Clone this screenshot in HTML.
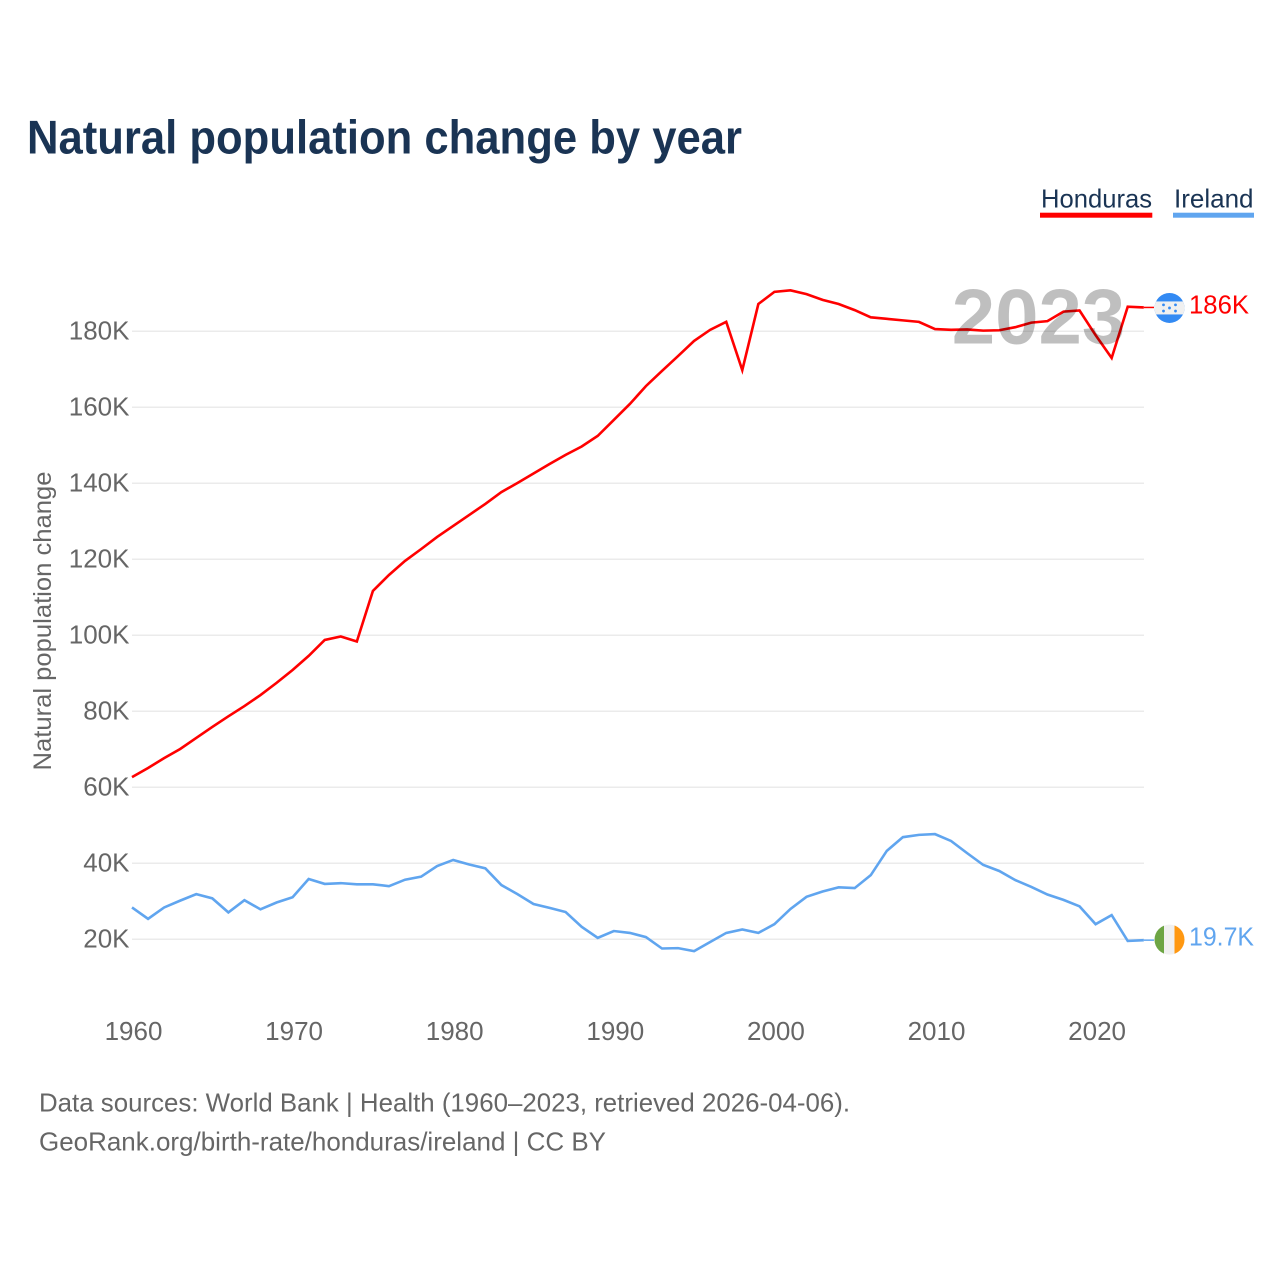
<!DOCTYPE html>
<html lang="en">
<head>
<meta charset="utf-8">
<title>Natural population change by year</title>
<style>
html,body{margin:0;padding:0;background:#fff;width:1280px;height:1280px;overflow:hidden}
svg{display:block;font-family:"Liberation Sans",sans-serif}
</style>
</head>
<body>
<svg id="chart" width="1280" height="1280" viewBox="0 0 1280 1280" xmlns="http://www.w3.org/2000/svg">
  <rect x="0" y="0" width="1280" height="1280" fill="#fff"/>
  <text x="27" y="153.5" font-size="47" font-weight="700" fill="#1a3454" textLength="715" lengthAdjust="spacingAndGlyphs">Natural population change by year</text>

  <g>
    <g>
      <text x="1041" y="207.5" font-size="26" fill="#1a3454" textLength="111" lengthAdjust="spacingAndGlyphs">Honduras</text>
      <rect x="1040" y="212.7" width="112.3" height="5" fill="#ff0000"/>
    </g>
    <g>
      <text x="1174" y="207.5" font-size="26" fill="#1a3454" textLength="79.5" lengthAdjust="spacingAndGlyphs">Ireland</text>
      <rect x="1173" y="212.7" width="81" height="5" fill="#60a5ef"/>
    </g>
  </g>

  <g id="grid"></g>
  <g id="yticks"></g>
  <g id="xticks"></g>
  <text transform="translate(51,621) rotate(-90)" text-anchor="middle" font-size="25" fill="#666" textLength="299" lengthAdjust="spacingAndGlyphs">Natural population change</text>
  <g id="series"></g>
  <text x="1038.5" y="343.5" text-anchor="middle" font-size="78" font-weight="700" fill="#000" fill-opacity="0.25">2023</text>

  <g id="flag-hn"></g>
  <g id="flag-ie"></g>

  <text x="39" y="1111.5" font-size="26" fill="#666" textLength="811" lengthAdjust="spacingAndGlyphs">Data sources: World Bank | Health (1960–2023, retrieved 2026-04-06).</text>
  <text x="39" y="1150.5" font-size="26" fill="#666" textLength="567" lengthAdjust="spacingAndGlyphs">GeoRank.org/birth-rate/honduras/ireland | CC BY</text>
</svg>
<script>
const startYear = 1960;
const xTickYears = [1960, 1970, 1980, 1990, 2000, 2010, 2020];
const yTickValues = [20, 40, 60, 80, 100, 120, 140, 160, 180];
const endLabels = ["186K", "19.7K"];
const hondurasValues = [62.6,65.0,67.6,70.0,72.9,75.8,78.6,81.3,84.2,87.4,90.8,94.5,98.7,99.6,98.3,111.6,115.8,119.5,122.6,125.8,128.7,131.6,134.5,137.6,140.0,142.5,145.0,147.4,149.6,152.4,156.6,160.8,165.5,169.5,173.4,177.4,180.3,182.4,169.7,187.1,190.3,190.7,189.7,188.2,187.1,185.5,183.6,183.2,182.8,182.4,180.5,180.3,180.4,180.1,180.2,181.0,182.2,182.6,185.1,185.4,178.9,172.9,186.4,186.2];
const irelandValues = [28.3,25.3,28.3,30.1,31.8,30.7,27.0,30.2,27.8,29.6,31.0,35.8,34.5,34.7,34.4,34.4,33.9,35.6,36.4,39.2,40.8,39.6,38.6,34.2,31.8,29.2,28.2,27.1,23.2,20.3,22.1,21.6,20.5,17.5,17.6,16.8,19.2,21.6,22.5,21.6,23.9,27.9,31.1,32.5,33.6,33.4,36.8,43.2,46.8,47.4,47.6,45.8,42.6,39.5,37.9,35.5,33.7,31.7,30.3,28.6,23.9,26.3,19.5,19.7];

const SVGNS = "http://www.w3.org/2000/svg";
function xScale(year) { return 132 + (year - 1960) * 16.06; }
function yScale(value) { return 1015 - value * 3.8; }
function make(tag, parent, attrs, text) {
  const el = document.createElementNS(SVGNS, tag);
  for (const k in attrs) el.setAttribute(k, attrs[k]);
  if (text !== undefined) el.textContent = text;
  parent.appendChild(el);
  return el;
}

const grid = document.getElementById("grid");
const yticks = document.getElementById("yticks");
yTickValues.forEach(function (v) {
  const line = make("line", grid, {x1: 132, x2: 1144, y1: yScale(v) + 0.3, y2: yScale(v) + 0.3, stroke: "#ebebeb", "stroke-width": 1.5});
  
  
  const label = make("text", yticks, {x: 129.5, y: yScale(v) + 8.5, "text-anchor": "end", "font-size": 26, fill: "#666"}, v + "K");
  
  
});

const xticks = document.getElementById("xticks");
xTickYears.forEach(function (y) {
  const label = make("text", xticks, {x: xScale(y) + 1.5, y: 1040, "text-anchor": "middle", "font-size": 26, fill: "#666"}, String(y));
  
  
});

function pathFor(values) {
  return values.map(function (v, i) {
    return (i ? "L" : "M") + xScale(startYear + i).toFixed(2) + " " + yScale(v).toFixed(2);
  }).join("");
}
const series = document.getElementById("series");

const hnLine = make("path", series, {d: pathFor(hondurasValues), fill: "none", stroke: "#ff0000", "stroke-width": 2.6, "stroke-linejoin": "miter"});



const ieLine = make("path", series, {d: pathFor(irelandValues), fill: "none", stroke: "#60a5ef", "stroke-width": 2.6, "stroke-linejoin": "miter"});



const lastYear = startYear + hondurasValues.length - 1;
const hnY = yScale(hondurasValues[hondurasValues.length - 1]);
const ieY = yScale(irelandValues[irelandValues.length - 1]);

const hnConn = make("line", series, {x1: xScale(lastYear), x2: 1154, y1: hnY, y2: hnY, stroke: "#ff0000", "stroke-width": 1.5});


const ieConn = make("line", series, {x1: xScale(lastYear), x2: 1154, y1: ieY, y2: ieY, stroke: "#60a5ef", "stroke-width": 1.5});



const hnEnd = make("text", series, {x: 1189, y: hnY + 6, "font-size": 26, fill: "#ff0000", textLength: 60, lengthAdjust: "spacingAndGlyphs"}, endLabels[0]);


const ieEnd = make("text", series, {x: 1189, y: ieY + 5.6, "font-size": 26, fill: "#60a5ef", textLength: 65, lengthAdjust: "spacingAndGlyphs"}, endLabels[1]);



/* flags */
const cx = 1169.5, r = 15;
const defs = make("defs", document.getElementById("chart"), {});
const clipHn = make("clipPath", defs, {id: "clip-hn"});
make("circle", clipHn, {cx: cx, cy: hnY + 0.5, r: r});
const clipIe = make("clipPath", defs, {id: "clip-ie"});
make("circle", clipIe, {cx: cx, cy: ieY - 0.5, r: r});

const hn = document.getElementById("flag-hn");
hn.setAttribute("clip-path", "url(#clip-hn)");
make("rect", hn, {x: cx - r, y: hnY - r, width: 2 * r, height: 2 * r + 1, fill: "#338af3"});
make("rect", hn, {x: cx - r, y: hnY - 6, width: 2 * r, height: 13, fill: "#f0f0f0"});
[[0, 0.5], [-6, -2.6], [6, -2.6], [-6, 3.6], [6, 3.6]].forEach(function (p) {
  make("circle", hn, {cx: cx + p[0], cy: hnY + p[1], r: 1.4, fill: "#338af3"});
});

const ie = document.getElementById("flag-ie");
ie.setAttribute("clip-path", "url(#clip-ie)");
make("rect", ie, {x: cx - r, y: ieY - r - 1, width: 2 * r, height: 2 * r + 1, fill: "#f0f0f0"});
make("rect", ie, {x: cx - r, y: ieY - r - 1, width: 9.5, height: 2 * r + 1, fill: "#6da544"});
make("rect", ie, {x: cx + 5, y: ieY - r - 1, width: 10, height: 2 * r + 1, fill: "#ff9811"});
</script>
</body>
</html>
